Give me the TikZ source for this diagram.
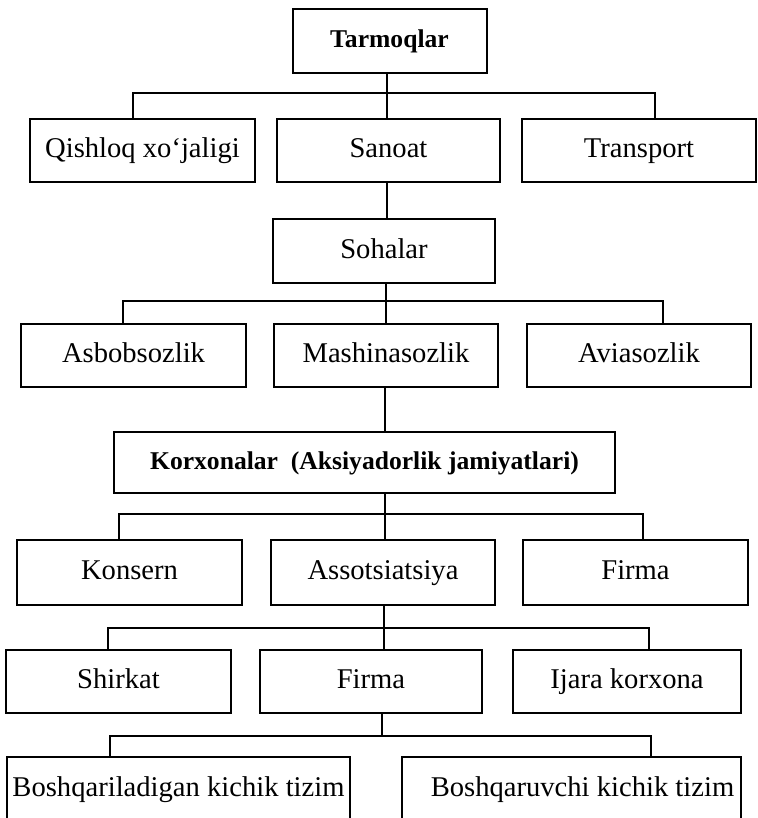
\documentclass[tikz,border=0pt]{standalone}
\usepackage{fontspec}
\setmainfont{Liberation Serif}
\begin{document}
\begin{tikzpicture}[x=0.5pt,y=-0.5pt,line width=1pt,
  box/.style={draw,line width=1pt,inner sep=0pt,text height=10pt,text depth=3pt,font=\fontsize{14.3}{16}\selectfont},
  boldbox/.style={box,font=\fontsize{12.8}{15}\selectfont\bfseries}]
\clip (0,0) rectangle (758,818);
\node[boldbox,minimum width=97pt,minimum height=32pt] (tarm) at (389.5,41) {Tarmoqlar};
\node[box,minimum width=112.5pt,minimum height=31.5pt] (qish) at (142.5,151) {Qishloq xo{\textquoteleft}jaligi};
\node[box,minimum width=111.5pt,minimum height=31.5pt] (sano) at (388.5,151) {Sanoat};
\node[box,minimum width=117pt,minimum height=31.5pt] (tran) at (639,151) {Transport};
\node[box,minimum width=111pt,minimum height=32pt] (soha) at (384,251) {Sohalar};
\node[box,minimum width=112.5pt,minimum height=31.5pt] (asbo) at (133.5,355.5) {Asbobsozlik};
\node[box,minimum width=112pt,minimum height=31.5pt] (mash) at (386,355.5) {Mashinasozlik};
\node[box,minimum width=112pt,minimum height=31.5pt] (avia) at (639,355.5) {Aviasozlik};
\node[boldbox,minimum width=250.5pt,minimum height=30.5pt] (korx) at (364.5,462.5) {Korxonalar\ \ (Aksiyadorlik jamiyatlari)};
\node[box,minimum width=112.5pt,minimum height=32.5pt] (kons) at (129.5,572.5) {Konsern};
\node[box,minimum width=112pt,minimum height=32.5pt] (asso) at (383,572.5) {Assotsiatsiya};
\node[box,minimum width=112.5pt,minimum height=32.5pt] (firA) at (635.5,572.5) {Firma};
\node[box,minimum width=112.5pt,minimum height=31.5pt] (shir) at (118.5,681.5) {Shirkat};
\node[box,minimum width=111pt,minimum height=31.5pt] (firB) at (371,681.5) {Firma};
\node[box,minimum width=114pt,minimum height=31.5pt] (ijar) at (627,681.5) {Ijara korxona};
\node[box,minimum width=171.5pt,minimum height=32pt] (bosA) at (178.5,789) {Boshqariladigan kichik tizim};
\node[box,minimum width=169.5pt,minimum height=32pt] (bosB) at (571.5,789) {\hspace*{11pt}Boshqaruvchi kichik tizim};
\coordinate (s1) at (387,93);
\coordinate (b1w) at (133,93);
\coordinate (b1e) at (655,93);
\coordinate (s2) at (386,301);
\coordinate (b2w) at (123,301);
\coordinate (b2e) at (663,301);
\coordinate (s3) at (385,514);
\coordinate (b3w) at (119,514);
\coordinate (b3e) at (643,514);
\coordinate (s4) at (384,628);
\coordinate (b4w) at (108,628);
\coordinate (b4e) at (649,628);
\coordinate (s5) at (382,736);
\coordinate (b5w) at (110,736);
\coordinate (b5e) at (651,736);
\draw (s1 |- tarm.south) -- (s1 |- sano.north);
\draw (b1w |- qish.north) -- (b1w) -- (b1e) -- (b1e |- tran.north);
\draw (s1 |- sano.south) -- (s1 |- soha.north);
\draw (s2 |- soha.south) -- (s2 |- mash.north);
\draw (b2w |- asbo.north) -- (b2w) -- (b2e) -- (b2e |- avia.north);
\draw (s3 |- mash.south) -- (s3 |- korx.north);
\draw (s3 |- korx.south) -- (s3 |- asso.north);
\draw (b3w |- kons.north) -- (b3w) -- (b3e) -- (b3e |- firA.north);
\draw (s4 |- asso.south) -- (s4 |- firB.north);
\draw (b4w |- shir.north) -- (b4w) -- (b4e) -- (b4e |- ijar.north);
\draw (s5 |- firB.south) -- (s5);
\draw (b5w |- bosA.north) -- (b5w) -- (b5e) -- (b5e |- bosB.north);
\end{tikzpicture}
\end{document}
